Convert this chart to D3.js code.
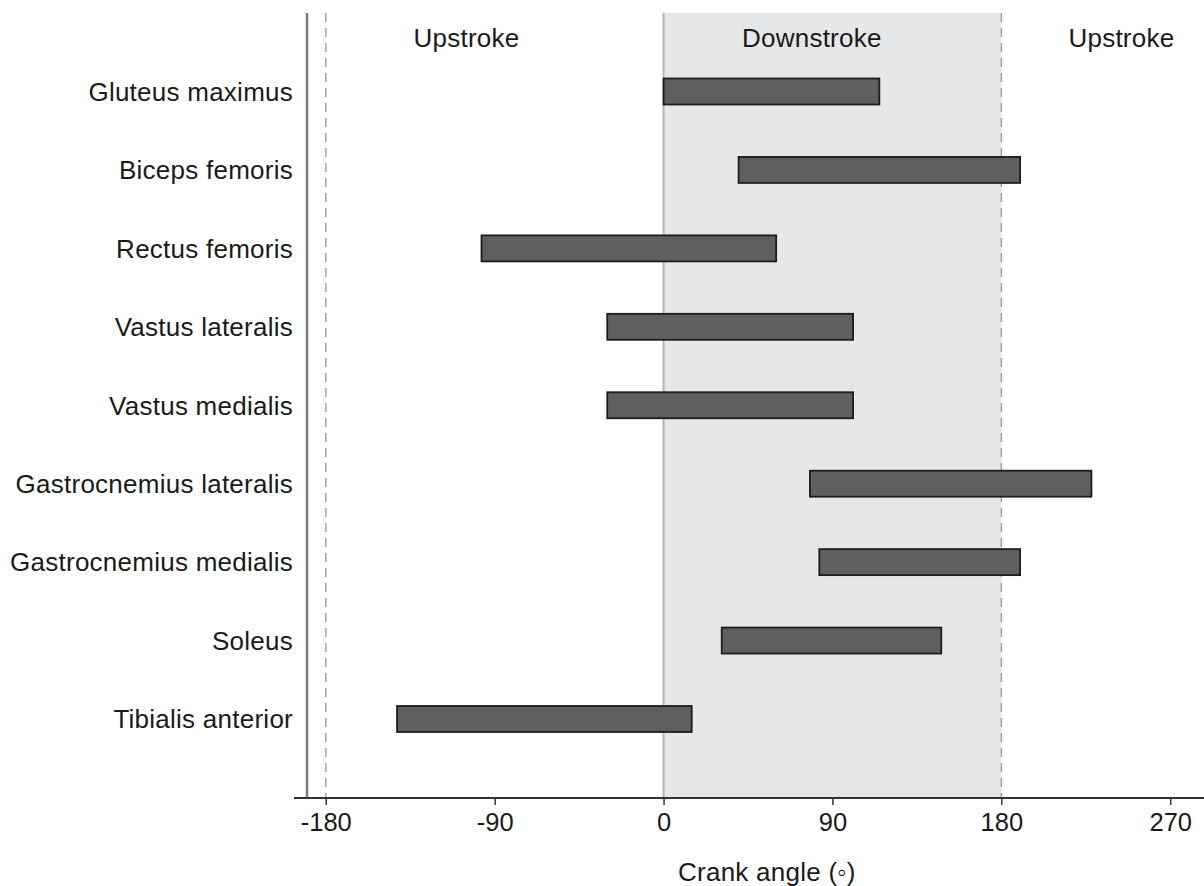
<!DOCTYPE html>
<html>
<head>
<meta charset="utf-8">
<script src="https://cdn.jsdelivr.net/npm/d3@7"></script>
<style>
  html, body { margin: 0; padding: 0; background: #fff; }
  svg { display: block; }
  text { font-family: "Liberation Sans", Arial, Helvetica, sans-serif; fill: #1a1a1a; }
</style>
</head>
<body>
<svg id="chart" width="1204" height="886"></svg>
<script>
// Data
const muscles = ["Gluteus maximus", "Biceps femoris", "Rectus femoris", "Vastus lateralis",
  "Vastus medialis", "Gastrocnemius lateralis", "Gastrocnemius medialis", "Soleus", "Tibialis anterior"];
const onsetAngles  = [0, 40, -97, -30, -30, 78, 83, 31, -142];
const offsetAngles = [115, 190, 60, 101, 101, 228, 190, 148, 15];
const xTicks = [-180, -90, 0, 90, 180, 270];
const phaseLabels = ["Upstroke", "Downstroke", "Upstroke"];
const phaseCenters = [-105, 79, 244];
const downstroke = [0, 180];
const dashedAngles = [-180, 180];
const xTitle = "Crank angle (\u25e6)";

const svg = d3.select("#chart");
const plotTop = 13, plotBottom = 798, plotLeft = 307, plotRight = 1204;

const x = d3.scaleLinear().domain([-190, 288]).range([plotLeft, plotRight]);
const y = d3.scalePoint().domain(muscles).range([91.5, 719]);
const barH = 26;

// shaded downstroke
svg.append("rect")
  .attr("x", x(downstroke[0])).attr("y", plotTop)
  .attr("width", x(downstroke[1]) - x(downstroke[0]))
  .attr("height", plotBottom - plotTop)
  .attr("fill", "#e6e7e9");

// zero line
svg.append("line")
  .attr("x1", x(0)).attr("x2", x(0)).attr("y1", plotTop).attr("y2", plotBottom)
  .attr("stroke", "#b4b4b6").attr("stroke-width", 2);

// dashed lines
svg.selectAll(".dash").data(dashedAngles).enter().append("line")
  .attr("x1", d => x(d)).attr("x2", d => x(d))
  .attr("y1", plotTop).attr("y2", plotBottom)
  .attr("stroke", "#a0a0a2").attr("stroke-width", 1.5)
  .attr("stroke-dasharray", "9,6");

// left axis line
svg.append("line")
  .attr("x1", plotLeft).attr("x2", plotLeft).attr("y1", plotTop).attr("y2", plotBottom)
  .attr("stroke", "#7a7a7c").attr("stroke-width", 2.5);

// bars
svg.selectAll(".bar").data(muscles).enter().append("rect")
  .attr("x", (d, i) => x(onsetAngles[i]))
  .attr("y", d => y(d) - barH / 2)
  .attr("width", (d, i) => x(offsetAngles[i]) - x(onsetAngles[i]))
  .attr("height", barH)
  .attr("fill", "#5e5f61")
  .attr("stroke", "#1c1c1c").attr("stroke-width", 1.8);

// muscle labels
svg.selectAll(".lab").data(muscles).enter().append("text")
  .attr("x", 293).attr("y", d => y(d))
  .attr("dy", "0.36em")
  .attr("text-anchor", "end")
  .attr("font-size", 26)
  .attr("letter-spacing", "0.25px")
  .text(d => d);

// phase labels
svg.selectAll(".phase").data(phaseLabels).enter().append("text")
  .attr("x", (d, i) => x(phaseCenters[i]))
  .attr("y", 47)
  .attr("text-anchor", "middle")
  .attr("font-size", 26)
  .attr("letter-spacing", "0.25px")
  .text(d => d);

// bottom axis
const axisG = svg.append("g").attr("transform", `translate(0,${plotBottom})`)
  .call(d3.axisBottom(x).tickValues(xTicks).tickSize(7).tickPadding(8).tickFormat(d => String(d)));
axisG.select(".domain").remove();
axisG.selectAll(".tick line").attr("stroke", "#333").attr("stroke-width", 1.5);
axisG.selectAll(".tick text")
  .attr("font-size", 25.5)
  .style("font-family", '"Liberation Sans", Arial, sans-serif')
  .attr("fill", "#1a1a1a");
axisG.append("line")
  .attr("x1", 294).attr("x2", 1204).attr("y1", 0).attr("y2", 0)
  .attr("stroke", "#333").attr("stroke-width", 2);

// axis title
svg.append("text")
  .attr("x", 678).attr("y", 881)
  .attr("text-anchor", "start")
  .attr("font-size", 26)
  .attr("letter-spacing", "0.25px")
  .text(xTitle);
</script>
</body>
</html>
